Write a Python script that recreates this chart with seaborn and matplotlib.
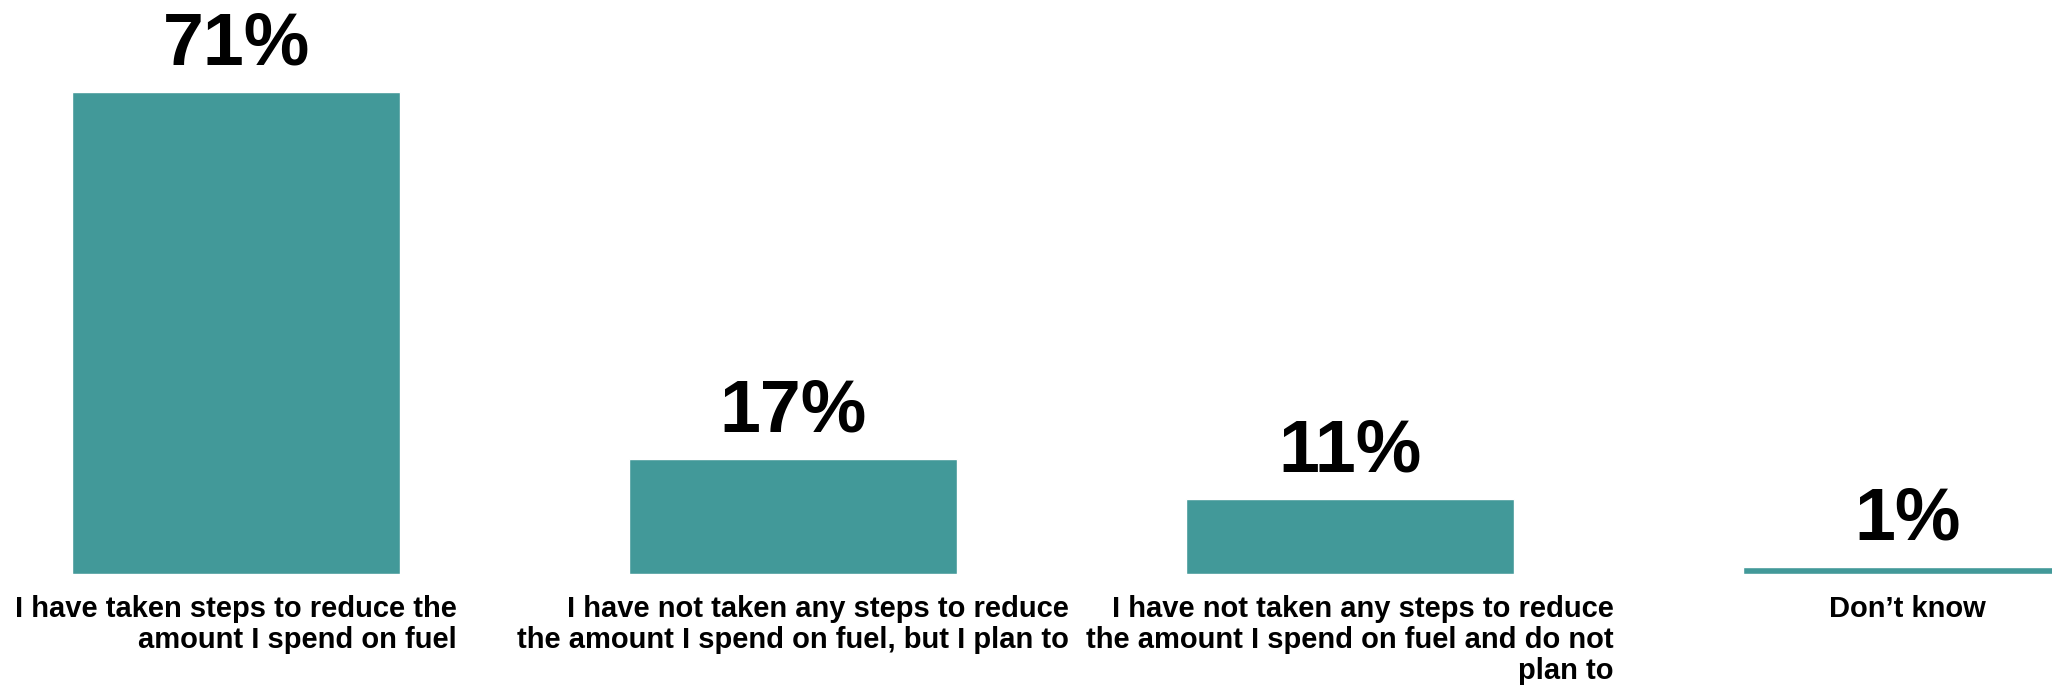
import seaborn as sns
import pandas as pd
import matplotlib.pyplot as plt

# survey answers and shares (%)
categories = [
    "I have taken steps to reduce the\namount I spend on fuel",
    "I have not taken any steps to reduce\nthe amount I spend on fuel, but I plan to",
    "I have not taken any steps to reduce\nthe amount I spend on fuel and do not\nplan to",
    "Don\u2019t know",
]
values = [71, 17, 11, 1]

df = pd.DataFrame({"answer": categories, "share": values})

sns.set_style("white")
plt.rcParams["font.family"] = ["Liberation Sans", "DejaVu Sans"]

fig = plt.figure(figsize=(20.52, 6.91), dpi=100)
ax = fig.add_axes([0, 0.169, 1, 0.831])

sns.barplot(data=df, x="answer", y="share", color="#429999", width=0.589,
            saturation=1, ax=ax)

ax.set_xlim(-0.424, 3.26)
ax.set_ylim(0, 84.5)

# value labels above bars
ax.bar_label(ax.containers[0], labels=[f"{v}%" for v in values],
             padding=9, fontsize=53, fontweight="bold", color="black")

ax.set_xlabel("")
ax.set_ylabel("")
ax.set_yticks([])
ax.tick_params(axis="x", length=0, pad=15)
for lab in ax.get_xticklabels():
    lab.set_fontfamily(["Liberation Sans Narrow", "Liberation Sans", "DejaVu Sans"])
    lab.set_fontsize(21)
    lab.set_fontweight("bold")
    lab.set_color("black")
    lab.set_multialignment("right")
    lab.set_linespacing(1.13)
    lab.set_verticalalignment("top")

sns.despine(left=True, bottom=True)

fig.savefig("out.png", dpi=100)
